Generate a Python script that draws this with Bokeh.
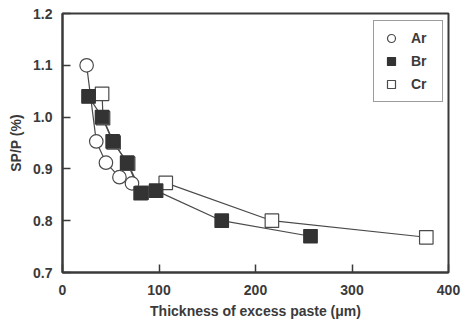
from bokeh.plotting import figure
from bokeh.models import Range1d, FixedTicker, Legend, LegendItem, PrintfTickFormatter
from bokeh.embed import file_html
from bokeh.resources import INLINE

# Superplasticizer dosage vs. thickness of excess paste
ar_x = [25, 35, 45, 59, 72]
ar_y = [1.10, 0.953, 0.912, 0.884, 0.872]

br_x = [27, 41, 52, 67, 81, 97, 165, 257]
br_y = [1.04, 1.00, 0.953, 0.912, 0.853, 0.858, 0.80, 0.77]

cr_x = [41, 42, 53, 68, 82, 107, 217, 377]
cr_y = [1.045, 0.998, 0.951, 0.910, 0.854, 0.873, 0.80, 0.768]

x_ticks = [0, 100, 200, 300, 400]
y_ticks = [0.7, 0.8, 0.9, 1.0, 1.1, 1.2]

FONT = "Liberation Sans"
INK = "#3a3a3a"

p = figure(width=473, height=327, output_backend="svg", toolbar_location=None,
           x_range=Range1d(0, 400), y_range=Range1d(0.7, 1.2),
           min_border_left=62, min_border_right=25, min_border_top=13, min_border_bottom=55)

p.grid.visible = False
p.background_fill_color = "white"
p.border_fill_color = "white"
p.outline_line_color = INK
p.outline_line_width = 2

p.xaxis.ticker = FixedTicker(ticks=x_ticks)
p.yaxis.ticker = FixedTicker(ticks=y_ticks)
p.yaxis.formatter = PrintfTickFormatter(format="%.1f")
p.xaxis.axis_label = "Thickness of excess paste (\u03bcm)"
p.yaxis.axis_label = "SP/P (%)"

for ax in (p.xaxis[0], p.yaxis[0]):
    ax.axis_line_color = INK
    ax.axis_line_width = 2
    ax.major_tick_in = 8
    ax.major_tick_out = 0
    ax.major_tick_line_color = INK
    ax.major_tick_line_width = 1.5
    ax.minor_tick_line_color = None
    ax.major_label_text_font = FONT
    ax.major_label_text_font_style = "bold"
    ax.major_label_text_font_size = "14px"
    ax.major_label_text_color = INK
    ax.axis_label_text_font = FONT
    ax.axis_label_text_font_style = "bold"
    ax.axis_label_text_font_size = "14px"
    ax.axis_label_text_color = INK

p.xaxis.major_label_standoff = 12
p.xaxis.axis_label_standoff = 5
p.yaxis.major_label_standoff = 10
p.yaxis.axis_label_standoff = 6

LINE = "#4a4a4a"
p.line(ar_x, ar_y, line_color=LINE, line_width=1.2)
p.line(cr_x, cr_y, line_color=LINE, line_width=1.2)
p.line(br_x, br_y, line_color=LINE, line_width=1.2)

r_ar = p.scatter(ar_x, ar_y, marker="circle", size=13.5, fill_color="white",
                 line_color=LINE, line_width=1.2)
r_cr = p.scatter(cr_x, cr_y, marker="square", size=13.5, fill_color="white",
                 line_color=LINE, line_width=1.2)
r_br = p.scatter(br_x, br_y, marker="square", size=13.5, fill_color="#333333",
                 line_color="#333333", line_width=1.2)

legend = Legend(items=[LegendItem(label="Ar", renderers=[r_ar]),
                       LegendItem(label="Br", renderers=[r_br]),
                       LegendItem(label="Cr", renderers=[r_cr])],
                location=(311, 170))
legend.border_line_color = INK
legend.border_line_width = 1.2
legend.background_fill_alpha = 1
legend.label_text_font = FONT
legend.label_text_font_style = "bold"
legend.label_text_font_size = "14px"
legend.label_text_color = INK
legend.glyph_height = 20
legend.glyph_width = 20
legend.label_height = 20
legend.label_width = 24
legend.label_standoff = 10
legend.spacing = 3
legend.padding = 7
legend.margin = 0
p.add_layout(legend, "center")

open("out.html", "w").write(file_html(p, INLINE))
